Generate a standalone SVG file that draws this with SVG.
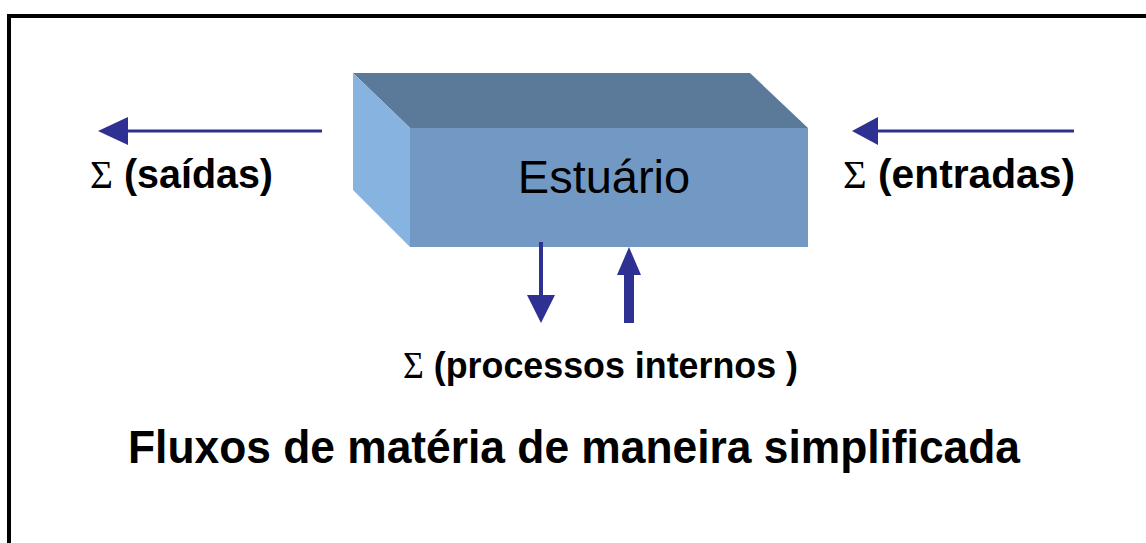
<svg xmlns="http://www.w3.org/2000/svg" width="1146" height="543" viewBox="0 0 1146 543">
  <defs>
    <style>
      .lbl { font-family: "Liberation Sans", Arial, sans-serif; font-weight: bold; fill: #000; }
      .sig { font-family: "Liberation Serif", "Times New Roman", serif; font-weight: normal; }
      .arr { stroke: #2E3192; fill: none; }
      .head { fill: #2E3192; }
    </style>
  </defs>
  <rect x="0" y="0" width="1146" height="543" fill="#fff"/>
  <path d="M9,543 V16 H1146" fill="none" stroke="#000" stroke-width="4"/>

  <g id="estuario">
    <polygon points="353,73 750,73 808,128 410,128" fill="#5B7A9A"/>
    <polygon points="353,73 410,128 410,247 353,190" fill="#86B3E0"/>
    <rect x="410" y="128" width="398" height="119" fill="#7299C4"/>
    <text x="604" y="193" text-anchor="middle" font-family="Liberation Sans, Arial, sans-serif" font-size="47" fill="#000">Estuário</text>
  </g>

  <g id="saidas">
    <text class="lbl" x="90" y="188" font-size="40" textLength="183" lengthAdjust="spacingAndGlyphs"><tspan class="sig">Σ</tspan> (saídas)</text>
  </g>
  <g id="entradas">
    <text class="lbl" x="843" y="188" font-size="40" textLength="232" lengthAdjust="spacingAndGlyphs"><tspan class="sig">Σ</tspan> (entradas)</text>
  </g>
  <g id="processos">
    <text class="lbl" x="403" y="378" font-size="37" textLength="395" lengthAdjust="spacingAndGlyphs"><tspan class="sig">Σ</tspan> (processos internos )</text>
  </g>
  <g id="titulo">
    <text class="lbl" x="128" y="463" font-size="46" textLength="892" lengthAdjust="spacingAndGlyphs">Fluxos de matéria de maneira simplificada</text>
  </g>

  <g id="connectors">
    <line class="arr" x1="322" y1="131" x2="125" y2="131" stroke-width="3"/>
    <polygon class="head" points="98,131 128,117 128,145"/>
    <line class="arr" x1="1074" y1="131" x2="875" y2="131" stroke-width="3"/>
    <polygon class="head" points="852,131 878,117 878,145"/>
    <line class="arr" x1="541" y1="242" x2="541" y2="297" stroke-width="4"/>
    <polygon class="head" points="527,295 555,295 541,323"/>
    <line class="arr" x1="629" y1="273" x2="629" y2="323" stroke-width="10"/>
    <polygon class="head" points="617,275 641,275 629,247"/>
  </g>
</svg>
